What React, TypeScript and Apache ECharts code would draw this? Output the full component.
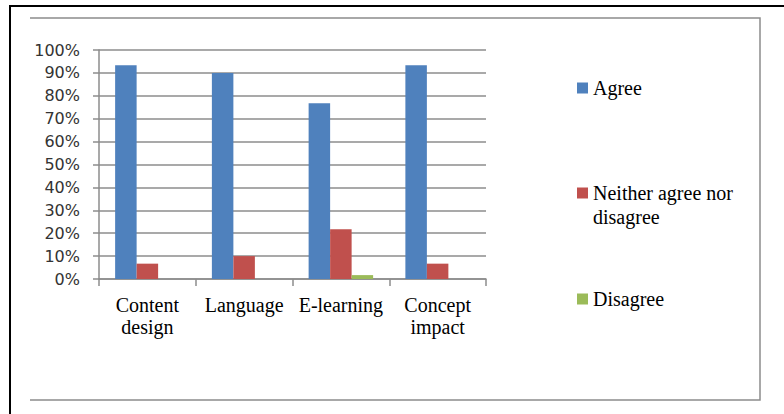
import React, { useEffect, useRef } from "react";
import * as echarts from "echarts";

const categories = ["Content\ndesign", "Language", "E-learning", "Concept\nimpact"];
const agree = [93.3, 90, 76.7, 93.3];
const neither = [6.7, 10, 21.7, 6.7];
const disagree = [0, 0, 1.7, 0];
const seriesNames = ["Agree", "Neither agree nor disagree", "Disagree"];
const colors = ["#4F81BD", "#C0504D", "#9BBB59"];

const SERIF = "'Liberation Serif', 'Times New Roman', Times, serif";

export default function App() {
  const ref = useRef<HTMLDivElement>(null);
  useEffect(() => {
    const chart = echarts.init(ref.current!, null, { renderer: "svg" });
    const legendBase = {
      left: 577,
      orient: "vertical",
      padding: 0,
      itemWidth: 11,
      itemHeight: 11,
      icon: "rect",
      selectedMode: false,
      textStyle: {
        fontFamily: SERIF,
        fontSize: 20,
        lineHeight: 24,
        color: "#000",
      },
    };
    chart.setOption({
      animation: false,
      backgroundColor: "#fff",
      graphic: [
        {
          type: "rect",
          shape: { x: 10, y: 6, width: 800, height: 420 },
          style: { fill: "none", stroke: "#000", lineWidth: 2 },
          silent: true,
        },
        {
          type: "polyline",
          shape: { points: [[30, 18], [760, 18], [760, 400], [30, 400]] },
          style: { fill: "none", stroke: "#8c8c8c", lineWidth: 1.5 },
          silent: true,
        },
      ],
      legend: [
        { ...legendBase, top: 76, data: [seriesNames[0]] },
        {
          ...legendBase,
          top: 181,
          itemHeight: 48,
          icon: "path://M0,0L0,0M0,6.5L11,6.5L11,17.5L0,17.5ZM0,48L0,48",
          data: [seriesNames[1]],
          formatter: () => "Neither agree nor\ndisagree",
        },
        { ...legendBase, top: 287, data: [seriesNames[2]] },
      ],
      grid: { left: 99, right: 298, top: 50, bottom: 135, containLabel: false },
      xAxis: {
        type: "category",
        data: categories,
        axisLine: { show: true, lineStyle: { color: "#8c8c8c", width: 1.5 } },
        axisTick: { show: true, length: 7, lineStyle: { color: "#8c8c8c", width: 1.5 } },
        axisLabel: {
          margin: 15,
          fontFamily: SERIF,
          fontSize: 20,
          lineHeight: 22,
          color: "#000",
          interval: 0,
        },
      },
      yAxis: {
        type: "value",
        min: 0,
        max: 100,
        interval: 10,
        axisLine: { show: true, lineStyle: { color: "#8c8c8c", width: 1.5 } },
        axisTick: { show: true, length: 6, lineStyle: { color: "#8c8c8c", width: 1.5 } },
        splitLine: { show: true, lineStyle: { color: "#8c8c8c", width: 1.5 } },
        axisLabel: {
          margin: 19,
          formatter: "{value}%",
          fontFamily: "'DejaVu Sans', sans-serif",
          fontSize: 16,
          color: "#333",
        },
      },
      series: [agree, neither, disagree].map((d, i) => ({
        name: seriesNames[i],
        type: "bar",
        data: d,
        barWidth: 21.5,
        barGap: "0%",
        itemStyle: { color: colors[i] },
      })),
    });
    return () => chart.dispose();
  }, []);
  return (
    <div
      ref={ref}
      style={{ position: "fixed", left: 0, top: 0, width: 784, height: 414 }}
    />
  );
}
